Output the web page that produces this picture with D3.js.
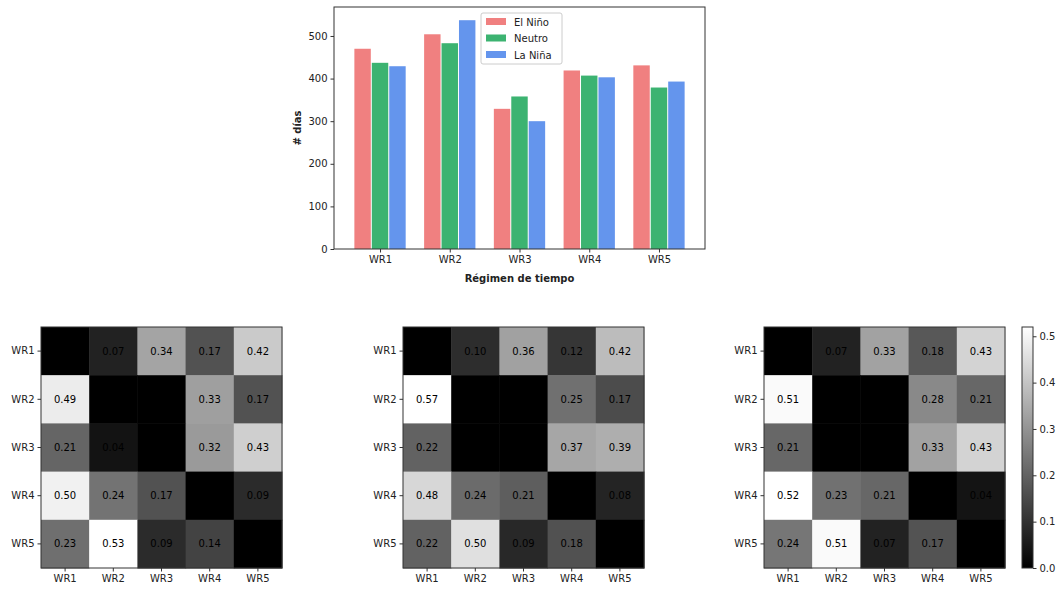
<!DOCTYPE html>
<html>
<head>
<meta charset="utf-8">
<script src="https://cdn.jsdelivr.net/npm/d3@7"></script>
<style>
  body { margin: 0; background: #fff; }
  svg text { font-family: "DejaVu Sans", sans-serif; fill: #222; }
</style>
</head>
<body>
<script>
// bar chart data
const categories = ["WR1", "WR2", "WR3", "WR4", "WR5"]
const seriesNames = ["El Niño", "Neutro", "La Niña"]
const elNino = [470, 504, 329, 419, 431]
const neutro = [437, 483, 358, 407, 379]
const laNina = [429, 537, 300, 403, 393]
const barTicks = [0, 100, 200, 300, 400, 500]

// transition matrices (0 = no label)
const matrix1 = [
    [0, 0.07, 0.34, 0.17, 0.42],
    [0.49, 0, 0, 0.33, 0.17],
    [0.21, 0.04, 0, 0.32, 0.43],
    [0.50, 0.24, 0.17, 0, 0.09],
    [0.23, 0.53, 0.09, 0.14, 0]
]
const matrix2 = [
    [0, 0.10, 0.36, 0.12, 0.42],
    [0.57, 0, 0, 0.25, 0.17],
    [0.22, 0, 0, 0.37, 0.39],
    [0.48, 0.24, 0.21, 0, 0.08],
    [0.22, 0.50, 0.09, 0.18, 0]
]
const matrix3 = [
    [0, 0.07, 0.33, 0.18, 0.43],
    [0.51, 0, 0, 0.28, 0.21],
    [0.21, 0, 0, 0.33, 0.43],
    [0.52, 0.23, 0.21, 0, 0.04],
    [0.24, 0.51, 0.07, 0.17, 0]
]
const colorbarTicks = [0.0, 0.1, 0.2, 0.3, 0.4, 0.5]

const colors = ["#f08080", "#3cb371", "#6495ed"]
const axisColor = "#333"

const svg = d3.select("body").append("svg")
    .attr("width", 1060)
    .attr("height", 589)

function styleAxis(g) {
    g.selectAll("path, line").attr("stroke", axisColor)
    g.selectAll("text").attr("font-size", 10).attr("fill", "#222")
}

// ---------- bar chart ----------
const bx0 = 334, bx1 = 705, by0 = 7, by1 = 249
const xScale = d3.scaleLinear().domain([-0.66, 4.66]).range([bx0, bx1])
const yScale = d3.scaleLinear().domain([0, 568]).range([by1, by0])
const barW = 0.25

const series = [elNino, neutro, laNina]
series.forEach((vals, s) => {
    svg.append("g").selectAll("rect")
        .data(vals)
        .enter()
            .append("rect")
                .attr("x", (d, i) => xScale(i + (s - 1) * barW - barW / 2) + 0.5)
                .attr("width", xScale(barW) - xScale(0) - 1)
                .attr("y", d => yScale(d))
                .attr("height", d => yScale(0) - yScale(d))
                .attr("fill", colors[s])
})

const barX = svg.append("g")
    .attr("transform", `translate(0,${by1})`)
    .call(d3.axisBottom(xScale).tickValues(d3.range(categories.length))
        .tickFormat(i => categories[i]).tickSize(3.5).tickPadding(3))
barX.select(".domain").remove()
styleAxis(barX)

const barY = svg.append("g")
    .attr("transform", `translate(${bx0},0)`)
    .call(d3.axisLeft(yScale).tickValues(barTicks).tickSize(3.5).tickPadding(3))
barY.select(".domain").remove()
styleAxis(barY)

svg.append("rect")
    .attr("x", bx0).attr("y", by0)
    .attr("width", bx1 - bx0).attr("height", by1 - by0)
    .attr("fill", "none").attr("stroke", axisColor).attr("stroke-width", 1)

svg.append("text")
    .attr("x", (bx0 + bx1) / 2).attr("y", 282)
    .attr("text-anchor", "middle")
    .attr("font-size", 10).attr("font-weight", "bold")
    .text("Régimen de tiempo")

svg.append("text")
    .attr("transform", `translate(301,${(by0 + by1) / 2}) rotate(-90)`)
    .attr("text-anchor", "middle")
    .attr("font-size", 10).attr("font-weight", "bold")
    .text("# días")

// legend
const legend = svg.append("g").attr("transform", "translate(481,13)")
legend.append("rect")
    .attr("width", 81).attr("height", 51).attr("rx", 2)
    .attr("fill", "#fff").attr("fill-opacity", 0.85)
    .attr("stroke", "#ccc")
seriesNames.forEach((name, i) => {
    legend.append("rect")
        .attr("x", 5).attr("y", 5 + i * 16.5)
        .attr("width", 20).attr("height", 7)
        .attr("fill", colors[i])
    legend.append("text")
        .attr("x", 33).attr("y", 12.5 + i * 16.5)
        .attr("font-size", 10)
        .text(name)
})

// ---------- heatmaps ----------
function drawHeatmap(matrix, left, top, size) {
    const maxVal = d3.max(matrix.flat())
    const band = d3.scaleBand().domain(categories).range([0, size])
    const grey = d3.scaleLinear().domain([0, maxVal]).range(["#000", "#fff"])
    const g = svg.append("g").attr("transform", `translate(${left},${top})`)

    matrix.forEach((row, r) => {
        row.forEach((v, c) => {
            g.append("rect")
                .attr("x", band(categories[c])).attr("y", band(categories[r]))
                .attr("width", band.bandwidth() + 0.5).attr("height", band.bandwidth() + 0.5)
                .attr("fill", grey(v))
            if (v > 0) {
                g.append("text")
                    .attr("x", band(categories[c]) + band.bandwidth() / 2)
                    .attr("y", band(categories[r]) + band.bandwidth() / 2)
                    .attr("text-anchor", "middle")
                    .attr("dominant-baseline", "central")
                    .attr("font-size", 10)
                    .style("fill", "#000")
                    .text(v.toFixed(2))
            }
        })
    })

    g.append("rect")
        .attr("width", size).attr("height", size)
        .attr("fill", "none").attr("stroke", axisColor)

    const ax = g.append("g").attr("transform", `translate(0,${size})`)
        .call(d3.axisBottom(band).tickSize(3.5).tickPadding(3))
    ax.select(".domain").remove()
    styleAxis(ax)

    const ay = g.append("g")
        .call(d3.axisLeft(band).tickSize(3.5).tickPadding(3))
    ay.select(".domain").remove()
    styleAxis(ay)
}

drawHeatmap(matrix1, 41, 327, 241)
drawHeatmap(matrix2, 403, 327, 241)
drawHeatmap(matrix3, 764, 327, 241)

// colorbar for last heatmap
const cbMax = d3.max(matrix3.flat())
const cbLeft = 1022, cbTop = 327, cbW = 11, cbH = 241
const cbScale = d3.scaleLinear().domain([0, cbMax]).range([cbTop + cbH, cbTop])

const grad = svg.append("defs").append("linearGradient")
    .attr("id", "cbgrad").attr("x1", 0).attr("y1", 1).attr("x2", 0).attr("y2", 0)
grad.append("stop").attr("offset", 0).attr("stop-color", "#000")
grad.append("stop").attr("offset", 1).attr("stop-color", "#fff")

svg.append("rect")
    .attr("x", cbLeft).attr("y", cbTop)
    .attr("width", cbW).attr("height", cbH)
    .attr("fill", "url(#cbgrad)")
    .attr("stroke", axisColor)

const cbAxis = svg.append("g")
    .attr("transform", `translate(${cbLeft + cbW},0)`)
    .call(d3.axisRight(cbScale).tickValues(colorbarTicks)
        .tickFormat(d3.format(".1f")).tickSize(3.5).tickPadding(3))
cbAxis.select(".domain").remove()
styleAxis(cbAxis)
</script>
</body>
</html>
